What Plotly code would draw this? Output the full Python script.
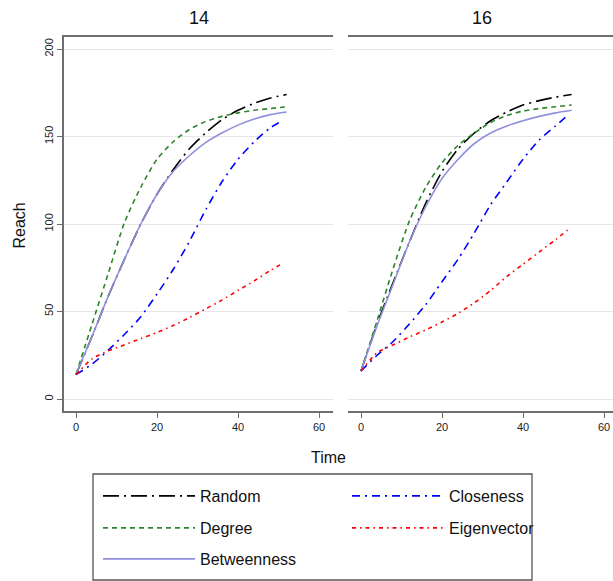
import plotly.graph_objects as go

# ---------------- data ----------------
TIME = [0, 4, 8, 12, 16, 20, 24, 28, 32, 36, 40, 44, 48, 52]
TIME_SHORT = [0, 4, 8, 12, 16, 20, 24, 28, 32, 36, 40, 44, 48, 51]

PANELS = ["14", "16"]

random_14 = [14, 36, 59, 80, 100, 117, 131, 143, 152, 159.5, 165, 169, 172, 174]
degree_14 = [14, 43, 72, 101, 121, 137, 147, 154, 158.5, 161.5, 163.5, 165, 166, 167]
betweenness_14 = [14, 36, 59, 80, 100, 117, 130, 139, 146.5, 152, 156.5, 160, 162.5, 164]
closeness_14 = [14, 20, 28, 37, 47, 60, 74, 90, 108, 124, 137, 147, 155, 159]
eigenvector_14 = [14, 23, 27.5, 31, 34.5, 38, 42, 46.5, 51.5, 56.5, 62, 67.5, 73.5, 77.5]

random_16 = [16, 43, 67, 90, 112, 130, 143, 152, 159, 164, 168, 170.5, 172.5, 174]
degree_16 = [16, 45, 75, 102, 121, 135, 145, 152, 158, 162, 164.5, 166, 167, 168]
betweenness_16 = [16, 42, 66, 90, 110, 126, 137, 146, 152, 156, 159, 161.5, 163.5, 165]
closeness_16 = [16, 25, 33, 43, 54, 67, 80, 95, 111, 124, 137, 148, 156, 162]
eigenvector_16 = [16, 26.5, 31, 35.5, 39.5, 44, 49, 55, 62, 70, 77, 84, 91, 96.5]

X_TICKS = [0, 20, 40, 60]
Y_TICKS = [0, 50, 100, 150, 200]

# ---------------- layout geometry ----------------
W, H = 613, 581
ML, MR, MT, MB = 64, 0, 37, 170
PW = W - ML - MR
PH = H - MT - MB


def px_x(px):
    return (px - ML) / PW


def px_y(py):
    return (H - MB - py) / PH


FONT = "Liberation Sans, Arial, Helvetica, sans-serif"
AXIS_COLOR = "#6e6e6e"
GRID_COLOR = "#e6e6e6"

series = [
    ("Random", TIME, random_14, random_16, "#000000", "16px,5px,2px,5px", "legend"),
    ("Degree", TIME, degree_14, degree_16, "#2d862d", "5px,4px", "legend2"),
    ("Betweenness", TIME, betweenness_14, betweenness_16, "#9090dc", "solid", "legend3"),
    ("Closeness", TIME_SHORT, closeness_14, closeness_16, "#0000ff", "8px,5px,2px,5px", "legend"),
    ("Eigenvector", TIME_SHORT, eigenvector_14, eigenvector_16, "#ff0000", "4px,4px,1.5px,4px", "legend2"),
]

fig = go.Figure()
for name, t, v14, v16, color, dash, leg in series:
    fig.add_trace(go.Scatter(
        x=t, y=v14, mode="lines", name=name, legend=leg,
        line=dict(color=color, width=1.6, dash=dash, shape="spline", smoothing=0.7),
        xaxis="x", yaxis="y", showlegend=True,
    ))
    fig.add_trace(go.Scatter(
        x=t, y=v16, mode="lines", name=name, legend=leg,
        line=dict(color=color, width=1.6, dash=dash, shape="spline", smoothing=0.7),
        xaxis="x2", yaxis="y2", showlegend=False,
    ))

xscale = 4.05
yscale = 1.75
left_lo = -(76 - 64) / xscale
left_hi = left_lo + (333 - 64) / xscale
right_lo = -(361 - 348) / xscale
right_hi = right_lo + (613 - 348) / xscale
y_lo = (399 - (H - MB)) / yscale
y_hi = (399 - MT) / yscale

xaxis_common = dict(
    tickvals=X_TICKS, ticks="outside", ticklen=5, tickwidth=1.3, tickcolor=AXIS_COLOR,
    showline=True, linecolor=AXIS_COLOR, linewidth=1.5, mirror=True,
    showgrid=False, zeroline=False,
    tickfont=dict(family=FONT, size=11, color="#222222"),
)

fig.update_layout(
    width=W, height=H,
    margin=dict(l=ML, r=MR, t=MT, b=MB, pad=0),
    paper_bgcolor="white", plot_bgcolor="white",
    font=dict(family=FONT, color="#111111"),
    xaxis=dict(domain=[0, px_x(333)], range=[left_lo, left_hi], anchor="y", **xaxis_common),
    xaxis2=dict(domain=[px_x(348), 1], range=[right_lo, right_hi], anchor="y2", **xaxis_common),
    yaxis=dict(
        domain=[0, 1], range=[y_lo, y_hi], anchor="x",
        tickvals=Y_TICKS, ticks="outside", ticklen=5, tickwidth=1.3, tickcolor=AXIS_COLOR,
        showline=True, linecolor=AXIS_COLOR, linewidth=1.5,
        showgrid=True, gridcolor=GRID_COLOR, gridwidth=1, zeroline=False,
        tickangle=-90, tickfont=dict(family=FONT, size=11, color="#222222"),
    ),
    yaxis2=dict(
        domain=[0, 1], range=[y_lo, y_hi], anchor="x2",
        tickvals=Y_TICKS, ticks="", showticklabels=False,
        showline=False, showgrid=True, gridcolor=GRID_COLOR, gridwidth=1, zeroline=False,
    ),
    showlegend=True,
)

legend_common = dict(
    orientation="h", xref="container", yref="container",
    xanchor="left", yanchor="middle",
    itemwidth=92, entrywidth=142,
    font=dict(family=FONT, size=16, color="#111111"),
    bgcolor="rgba(0,0,0,0)", borderwidth=0, tracegroupgap=0,
)
leg_x = 98 / W
fig.update_layout(
    legend=dict(x=leg_x, y=1 - 496 / H, **legend_common),
    legend2=dict(x=leg_x, y=1 - 528 / H, **legend_common),
    legend3=dict(x=leg_x, y=1 - 559 / H, **legend_common),
)

# legend frame
fig.add_shape(type="rect", xref="paper", yref="paper",
              x0=px_x(93), x1=px_x(532), y0=px_y(580), y1=px_y(474),
              line=dict(color="#555555", width=1.3), fillcolor="rgba(0,0,0,0)", layer="above")

# panel titles and axis titles
for label, cx in zip(PANELS, [198.5, 482.0]):
    fig.add_annotation(text=label, xref="paper", yref="paper", x=px_x(cx), y=px_y(18.5),
                       showarrow=False, xanchor="center", yanchor="middle",
                       font=dict(family=FONT, size=18, color="#111111"))
fig.add_annotation(text="Time", xref="paper", yref="paper", x=px_x(328.5), y=px_y(457),
                   showarrow=False, xanchor="center", yanchor="middle",
                   font=dict(family=FONT, size=16, color="#111111"))
fig.add_annotation(text="Reach", xref="paper", yref="paper", x=px_x(18.5), y=px_y(226),
                   showarrow=False, xanchor="center", yanchor="middle", textangle=-90,
                   font=dict(family=FONT, size=16, color="#111111"))

fig.write_html("out.html")
